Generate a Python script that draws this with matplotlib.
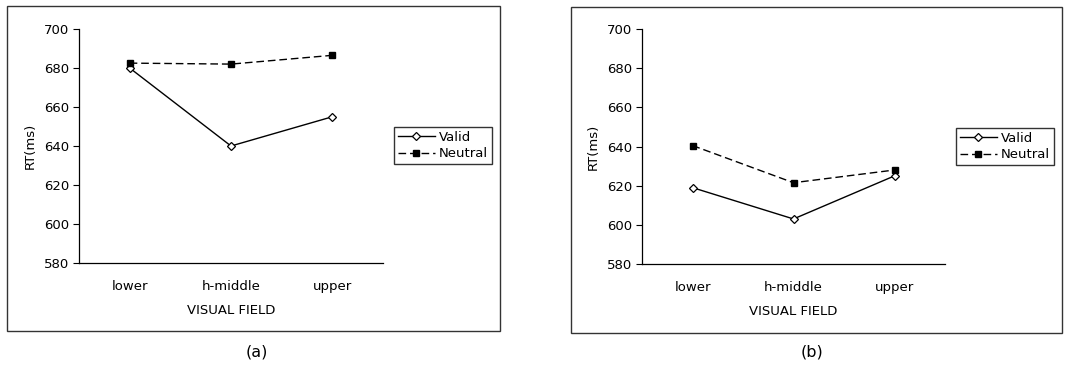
import matplotlib
matplotlib.use("Agg")
import matplotlib.pyplot as plt
from matplotlib.patches import Rectangle

plt.rcParams['font.family'] = ['DejaVu Sans']

categories = ["lower", "h-middle", "upper"]
valid_a = [680, 640, 655]
neutral_a = [682.5, 682, 686.5]
valid_b = [619, 603, 625]
neutral_b = [640.5, 621.5, 628]
yticks = [580, 600, 620, 640, 660, 680, 700]
panel_labels = ["(a)", "(b)"]

W, H = 1080, 368
fig = plt.figure(figsize=(W / 100, H / 100), dpi=100)


def px_axes(left, top, right, bottom):
    return fig.add_axes([left / W, 1 - bottom / H, (right - left) / W, (bottom - top) / H])


def frame(left, top, right, bottom):
    fig.patches.append(Rectangle((left / W, 1 - bottom / H), (right - left) / W, (bottom - top) / H,
                                 transform=fig.transFigure, fill=False, edgecolor="#333333",
                                 linewidth=1.0))


panels = [
    dict(ax=(79, 29, 383, 263), box=(7, 6, 500, 331), leg=(394, 145.5), lab=(257, 352),
         valid=valid_a, neutral=neutral_a),
    dict(ax=(642, 29, 945, 264), box=(571, 7, 1062, 333), leg=(956, 146.5), lab=(812, 352),
         valid=valid_b, neutral=neutral_b),
]

x = list(range(len(categories)))
for p, lab in zip(panels, panel_labels):
    frame(*p["box"])
    ax = px_axes(*p["ax"])
    ax.plot(x, p["valid"], color="black", linestyle="-", linewidth=1.0, marker="D",
            markersize=4.5, markerfacecolor="white", markeredgecolor="black",
            markeredgewidth=0.9, label="Valid")
    ax.plot(x, p["neutral"], color="black", linestyle=(0, (5.5, 2.8)), linewidth=1.0, marker="s",
            markersize=5, markerfacecolor="black", markeredgecolor="black", label="Neutral")
    ax.set_xlim(-0.5, 2.5)
    ax.set_ylim(580, 700)
    ax.set_yticks(yticks)
    ax.set_xticks(x)
    ax.set_xticklabels(categories, fontsize=9.5)
    ax.tick_params(axis="y", labelsize=9.5, length=4, width=0.8, direction="out", pad=3)
    ax.tick_params(axis="x", length=0, pad=12)
    for s in ("top", "right"):
        ax.spines[s].set_visible(False)
    for s in ("left", "bottom"):
        ax.spines[s].set_linewidth(0.9)
    ax.set_ylabel("RT(ms)", fontsize=9.5, labelpad=5)
    ax.set_xlabel("VISUAL FIELD", fontsize=9.5, labelpad=8)
    lx, ly = p["leg"]
    leg = ax.legend(loc="center left", bbox_to_anchor=(lx / W, 1 - ly / H),
                    bbox_transform=fig.transFigure, frameon=True, fancybox=False,
                    edgecolor="black", fontsize=9.5, handlelength=2.8, handletextpad=0.3,
                    borderpad=0.3, labelspacing=0.3, borderaxespad=0)
    leg.get_frame().set_linewidth(1.0)
    fig.text(p["lab"][0] / W, 1 - p["lab"][1] / H, lab, ha="center", va="center", fontsize=11.5)

fig.savefig("out.png", dpi=100, facecolor="white")
